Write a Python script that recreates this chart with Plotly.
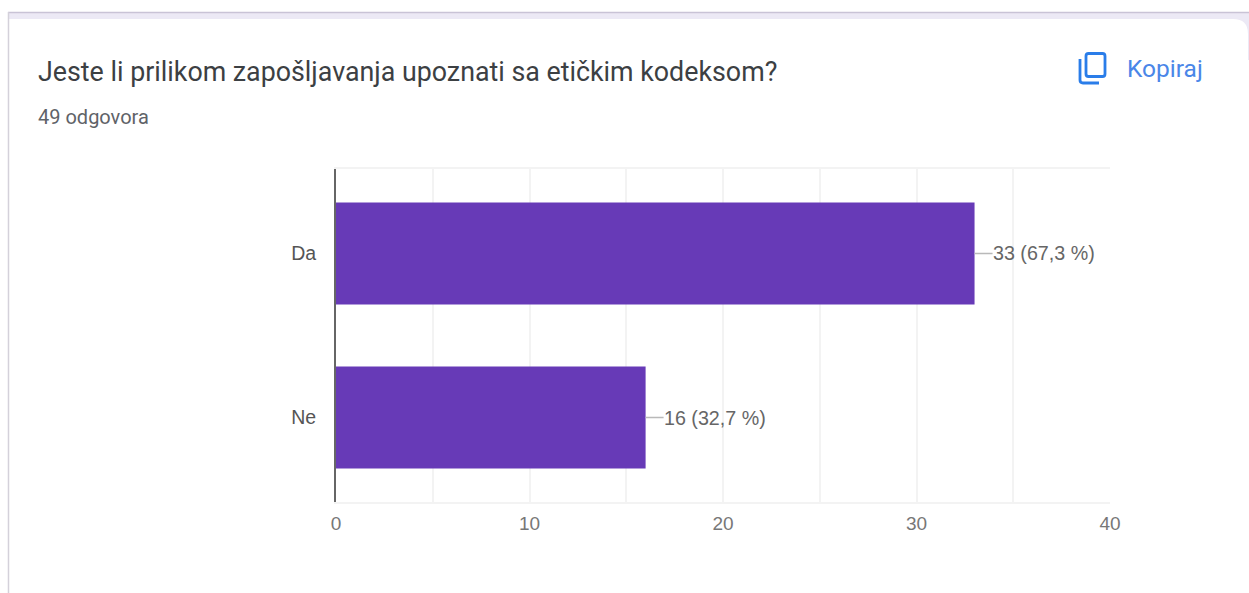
import plotly.graph_objects as go

categories = ["Da", "Ne"]
counts = [33, 16]
percent_labels = ["33 (67,3 %)", "16 (32,7 %)"]
x_tick_values = [0, 10, 20, 30, 40]
title_text = "Jeste li prilikom zapošljavanja upoznati sa etičkim kodeksom?"
subtitle_text = "49 odgovora"
copy_text = "Kopiraj"

W, H = 1249, 593
PL, PR, PT, PB = 336, 1110, 169, 502


def px(x):
    return (x - PL) / (PR - PL)


def py(y):
    return (PB - y) / (PB - PT)


def paper_rect(x0, y0, x1, y1, fill, line=None, width=0, layer="below"):
    return dict(type="rect", xref="paper", yref="paper", x0=px(x0), x1=px(x1), y0=py(y0), y1=py(y1),
                fillcolor=fill, line=dict(color=line or fill, width=width), layer=layer)


def paper_path(points, color, width, closed=False):
    d = "M " + " L ".join(f"{px(a):.5f},{py(b):.5f}" for a, b in points)
    return dict(type="path", xref="paper", yref="paper", path=d + (" Z" if closed else ""),
                line=dict(color=color, width=width), layer="above")


def rounded_rect(x0, y0, x1, y1, r, color, width):
    p = (f"M {px(x0 + r)},{py(y0)} L {px(x1 - r)},{py(y0)} Q {px(x1)},{py(y0)} {px(x1)},{py(y0 + r)} "
         f"L {px(x1)},{py(y1 - r)} Q {px(x1)},{py(y1)} {px(x1 - r)},{py(y1)} "
         f"L {px(x0 + r)},{py(y1)} Q {px(x0)},{py(y1)} {px(x0)},{py(y1 - r)} "
         f"L {px(x0)},{py(y0 + r)} Q {px(x0)},{py(y0)} {px(x0 + r)},{py(y0)} Z")
    return dict(type="path", xref="paper", yref="paper", path=p, layer="above",
                line=dict(color=color, width=width), fillcolor="rgba(0,0,0,0)")


fig = go.Figure(go.Bar(
    x=counts, y=categories, orientation="h",
    marker=dict(color="#673ab7", line=dict(width=0)),
    hoverinfo="skip",
))

ICON = "#2a7de9"
shapes = [
    paper_rect(8, 12, W, 60, "#ece9f5"),
    dict(type="path", xref="paper", yref="paper", layer="below", fillcolor="#ffffff",
         line=dict(color="#ece9f5", width=0),
         path=f"M {px(9)},{py(19)} L {px(1233)},{py(19)} Q {px(1248)},{py(19)} {px(1248)},{py(34)} "
              f"L {px(1248)},{py(593)} L {px(9)},{py(593)} Z"),
    paper_path([(8, 12.5), (W, 12.5)], "#c9c3d6", 1.5),
    paper_path([(8.5, 12), (8.5, 593)], "#d4d1da", 1.5),
    # copy icon
    rounded_rect(1086, 53.5, 1105, 76.5, 2.5, ICON, 2.8),
    dict(type="path", xref="paper", yref="paper", layer="above", fillcolor="rgba(0,0,0,0)",
         line=dict(color=ICON, width=2.8),
         path=f"M {px(1080)},{py(59)} L {px(1080)},{py(80)} Q {px(1080)},{py(83)} {px(1083)},{py(83)} "
              f"L {px(1099)},{py(83)}"),
]

annotations = [
    dict(x=c, y=cat, xref="x", yref="y", text=t, showarrow=True, ax=18, ay=0, axref="pixel", ayref="pixel",
         arrowhead=0, arrowwidth=1.3, arrowcolor="#b9b9b9", xanchor="left", yanchor="middle",
         borderpad=0, borderwidth=0,
         font=dict(family="Liberation Sans", size=19.7, color="#666666"))
    for c, cat, t in zip(counts, categories, percent_labels)
]
annotations += [
    dict(xref="paper", yref="paper", x=px(35.5), y=py(72), text=title_text, showarrow=False,
         xanchor="left", yanchor="middle", font=dict(family="Roboto", size=26.8, color="#3c4043")),
    dict(xref="paper", yref="paper", x=px(35.5), y=py(117), text=subtitle_text, showarrow=False,
         xanchor="left", yanchor="middle", font=dict(family="Roboto", size=20, color="#5f6368")),
    dict(xref="paper", yref="paper", x=px(1125), y=py(68), text=copy_text, showarrow=False,
         xanchor="left", yanchor="middle", font=dict(family="Roboto", size=24.5, color="#4a86e8")),
]

fig.update_layout(
    width=W, height=H, autosize=False, showlegend=False,
    margin=dict(l=PL, r=W - PR, t=PT, b=H - PB),
    paper_bgcolor="#ffffff", plot_bgcolor="#ffffff",
    bargap=0.378, shapes=shapes, annotations=annotations,
    xaxis=dict(range=[0, 40], tickvals=x_tick_values, showgrid=True, gridcolor="#f3f3f3", gridwidth=1.5,
               minor=dict(dtick=5, showgrid=True, gridcolor="#f3f3f3", gridwidth=1.5, ticks=""),
               showline=True, linecolor="#f3f3f3", linewidth=1.5, mirror=True, zeroline=False,
               ticks="", ticklabelstandoff=3,
               tickfont=dict(family="Liberation Sans", size=19, color="#777777")),
    yaxis=dict(categoryorder="array", categoryarray=categories, range=[1.515, -0.515],
               showline=True, linecolor="#666666", linewidth=2, showgrid=False, zeroline=False,
               ticks="", ticklabelstandoff=14,
               tickfont=dict(family="Liberation Sans", size=19.5, color="#555555")),
)

fig.write_html("out.html", post_script="document.body.style.margin='0';", config={"displayModeBar": False})
